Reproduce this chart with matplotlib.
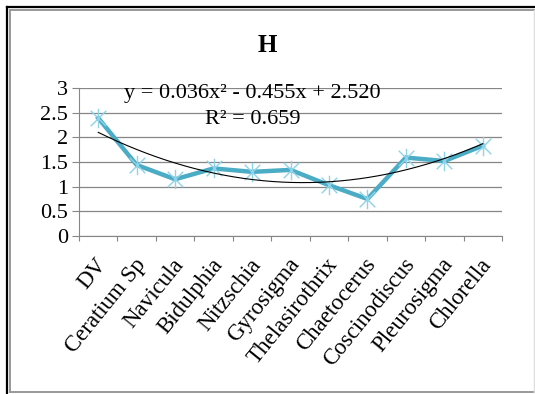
import numpy as np
import matplotlib
matplotlib.use('Agg')
from matplotlib import pyplot as plt
from matplotlib.path import Path
from matplotlib.lines import Line2D
from matplotlib.transforms import ScaledTranslation

species = ['DV', 'Ceratium Sp', 'Navicula', 'Bidulphia', 'Nitzschia', 'Gyrosigma',
           'Thelasirothrix', 'Chaetocerus', 'Coscinodiscus', 'Pleurosigma', 'Chlorella']
h_values = [2.39, 1.44, 1.15, 1.37, 1.30, 1.34, 1.03, 0.75, 1.59, 1.52, 1.83]

# polynomial trend coefficients (a*x^2 + b*x + c), x = 1..n
trend_coef = [0.036, -0.455, 2.520]
trend_r2 = 0.659

plt.rcParams['font.family'] = ['Liberation Serif', 'DejaVu Serif']

#Excel style star marker: an x crossed by a vertical bar
star = Path([(-1, -1), (1, 1), (-1, 1), (1, -1), (0, -1.25), (0, 1.25)],
            [Path.MOVETO, Path.LINETO, Path.MOVETO, Path.LINETO, Path.MOVETO, Path.LINETO])

fig = plt.figure(figsize=(5.35, 3.94), dpi=100)
ax = fig.add_axes([79/535, 1 - 236/394, 423/535, 148/394])

n = len(species)
x = np.arange(n)

ax.plot(x, h_values, color='#4BACC6', lw=3.2, solid_joinstyle='miter', zorder=3)
ax.plot(x, h_values, ls='none', marker=star, ms=14, mfc='none', mec='#8DD3EA', mew=1.0, zorder=4)

#Trend line from the stated quadratic
xt = np.linspace(1, n, 200)
yt = np.polyval(trend_coef, xt)
ax.plot(xt - 1, yt, color='black', lw=0.8, zorder=5)

ax.set_xlim(-0.5, n - 0.5)
ax.set_ylim(0, 3)
ax.set_yticks(np.arange(0, 3.01, 0.5))
ax.set_yticklabels(['0', '0.5', '1', '1.5', '2', '2.5', '3'])
ax.set_xticks(np.arange(-0.5, n, 1.0), minor=False)
ax.set_xticklabels([])
ax.set_xticks(x, minor=True)
ax.set_xticklabels(species, minor=True, rotation=51, ha='right', rotation_mode='anchor',
                   va='center')
ax.tick_params(axis='x', which='minor', length=0, pad=18, labelsize=16.5)
ax.tick_params(axis='x', which='major', length=3.6, color='#868686', direction='out')
ax.tick_params(axis='y', length=5, color='#868686', pad=3, labelsize=16)

#nudge category labels a little to the right
shift = ScaledTranslation(5/100, 0, fig.dpi_scale_trans)
for lbl in ax.get_xticklabels(minor=True):
    lbl.set_transform(lbl.get_transform() + shift)

ax.grid(axis='y', color='#868686', lw=0.9)
ax.set_axisbelow(True)
for side in ['top', 'right']:
    ax.spines[side].set_visible(False)
ax.spines['left'].set_color('#868686')
ax.spines['bottom'].set_color('#868686')

ax.text(0.41, 0.966, 'y = 0.036x² - 0.455x + 2.520', transform=ax.transAxes,
        ha='center', va='center', fontsize=16)
ax.text(0.41, 0.784, f'R² = {trend_r2}', transform=ax.transAxes,
        ha='center', va='center', fontsize=16)

fig.text(267/535, 1 - 46/394, 'H', ha='center', va='center', fontsize=18, fontweight='bold')

#Chart frame: dark outer edge on top/left, grey inner edge
W, H = 535, 394
def fx(px): return px / W
def fy(py): return 1 - py / H
fig.add_artist(Line2D([fx(6.5), fx(535)], [fy(6.5), fy(6.5)], color='black', lw=1.6))
fig.add_artist(Line2D([fx(6.5), fx(6.5)], [fy(6.5), fy(394)], color='black', lw=1.6))
fig.add_artist(Line2D([fx(9.5), fx(535)], [fy(9.5), fy(9.5)], color='#999999', lw=1.4))
fig.add_artist(Line2D([fx(9.5), fx(9.5)], [fy(9.5), fy(392)], color='#999999', lw=1.4))
fig.add_artist(Line2D([fx(9.5), fx(535)], [fy(392), fy(392)], color='#999999', lw=1.4))
fig.add_artist(Line2D([fx(533.5), fx(533.5)], [fy(9.5), fy(392)], color='#dddddd', lw=1.0))

fig.savefig('out.png', dpi=100)
